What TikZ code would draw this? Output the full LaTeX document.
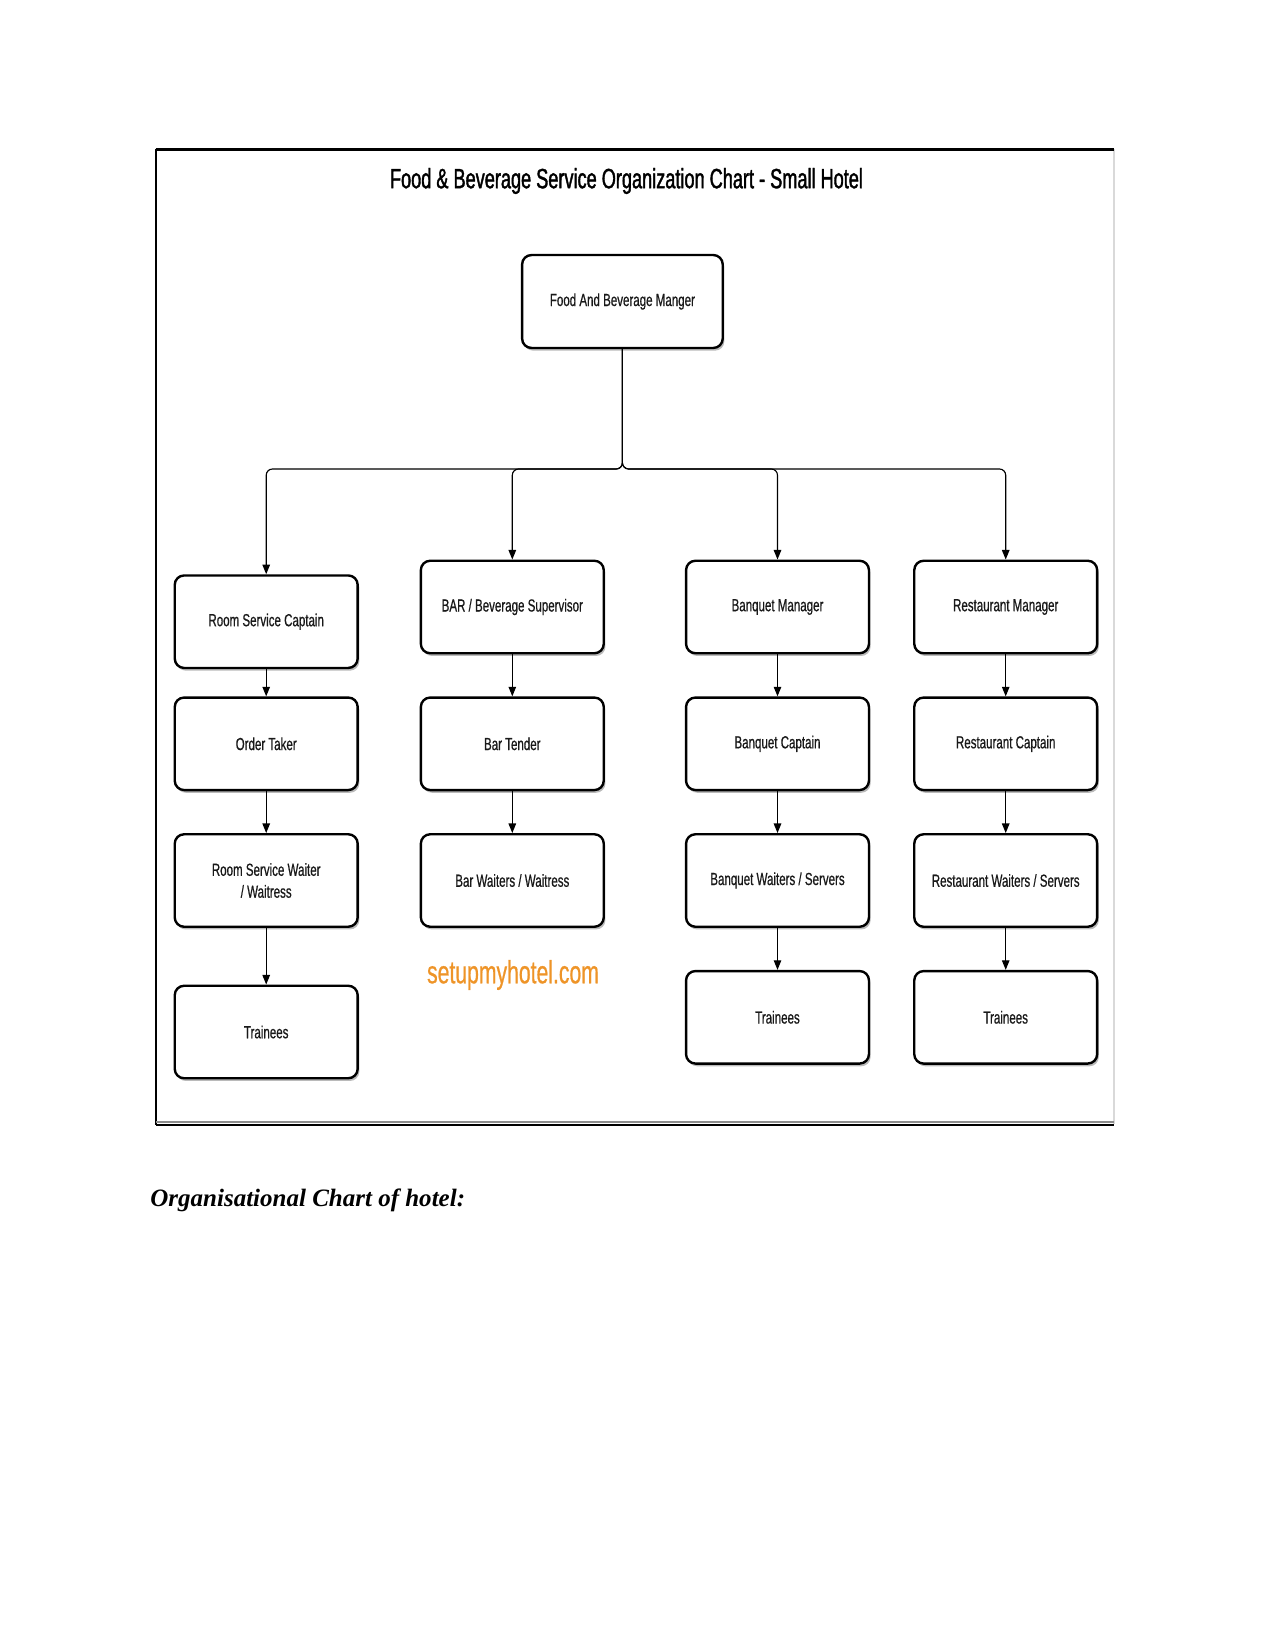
\documentclass[tikz,border=0pt]{standalone}
\usepackage{fontspec}
\setmainfont{Liberation Serif}
\newfontfamily\narrowsans[FakeStretch=0.66,FakeBold=0.6]{Liberation Sans}
\newfontfamily\narrowtitle[FakeStretch=0.65,FakeBold=1.4]{Liberation Sans}
\usetikzlibrary{arrows.meta,shadows}
\definecolor{brandorange}{RGB}{238,148,40}
\tikzset{
  orgbox/.style={draw=black, line width=1.15pt, rounded corners=4.5pt, fill=white,
    minimum width=87.8pt, minimum height=44.4pt, inner sep=2pt, align=center,
    font=\narrowsans\fontsize{8.4}{10.5}\selectfont, text=black!90,
    drop shadow={shadow xshift=0.8pt, shadow yshift=-1.3pt, fill=black!45, opacity=0.6}},
  conn/.style={draw=black, line width=0.55pt, -{Triangle[length=4.6pt,width=3.6pt]}},
  busline/.style={conn, rounded corners=3pt}
}
\begin{document}
\begin{tikzpicture}[x=0.48pt, y=-0.48pt]
\useasboundingbox (0,0) rectangle (1275,1650);
% frame
\draw[black!15, line width=0.6pt] (1114,149) -- (1114,1124);
\draw[black, line width=0.8pt] (156,149) -- (156,1125);
\draw[black!45, line width=0.8pt] (156,1122) -- (1114,1122);
\draw[black, line width=1.3pt] (156,1125) -- (1114,1125);
\draw[black, line width=1.3pt] (155.6,149.5) -- (1114,149.5);
% title
\node[font=\narrowtitle\fontsize{13.4}{16}\selectfont] (title) at (626.5,181) {Food \& Beverage Service Organization Chart - Small Hotel};
% top box
\node[orgbox, minimum width=96.3pt, minimum height=44.6pt] (fbm) at (622.4,301.5) {Food And Beverage Manger};
% column 1
\node[orgbox] (rsc) at (266.2,621.7) {Room Service Captain};
\node[orgbox] (ot)  at (266.2,743.8) {Order Taker};
\node[orgbox] (rsw) at (266.2,880.5) {Room Service Waiter\\/ Waitress};
\node[orgbox] (tr1) at (266.2,1032) {Trainees};
% column 2
\node[orgbox] (bbs) at (512.3,607) {BAR / Beverage Supervisor};
\node[orgbox] (bt)  at (512.3,743.8) {Bar Tender};
\node[orgbox] (bw)  at (512.3,880.5) {Bar Waiters / Waitress};
% column 3
\node[orgbox] (bm)  at (777.5,607) {Banquet Manager};
\node[orgbox] (bc)  at (777.5,743.8) {Banquet Captain};
\node[orgbox] (bws) at (777.5,880.5) {Banquet Waiters / Servers};
\node[orgbox] (tr3) at (777.5,1017.3) {Trainees};
% column 4
\node[orgbox] (rm)  at (1005.7,607) {Restaurant Manager};
\node[orgbox] (rc)  at (1005.7,743.8) {Restaurant Captain};
\node[orgbox] (rws) at (1005.7,880.5) {Restaurant Waiters / Servers};
\node[orgbox] (tr4) at (1005.7,1017.3) {Trainees};
% bus
\coordinate (bus) at (622.4,469);
\draw[busline] (fbm.south) -- (bus) -| (rsc.north);
\draw[busline] (fbm.south) -- (bus) -| (bbs.north);
\draw[busline] (fbm.south) -- (bus) -| (bm.north);
\draw[busline] (fbm.south) -- (bus) -| (rm.north);
% vertical chains
\draw[conn] (rsc) -- (ot);
\draw[conn] (ot) -- (rsw);
\draw[conn] (rsw) -- (tr1);
\draw[conn] (bbs) -- (bt);
\draw[conn] (bt) -- (bw);
\draw[conn] (bm) -- (bc);
\draw[conn] (bc) -- (bws);
\draw[conn] (bws) -- (tr3);
\draw[conn] (rm) -- (rc);
\draw[conn] (rc) -- (rws);
\draw[conn] (rws) -- (tr4);
% watermark
\node[font=\narrowsans\fontsize{15.4}{18}\selectfont, text=brandorange] (site) at (513,975) {setupmyhotel.com};
% caption
\node[anchor=base west, inner sep=0pt, font=\fontsize{12}{14}\selectfont\bfseries\itshape] (caption) at (150,1206) {Organisational Chart of hotel:};
\end{tikzpicture}
\end{document}
